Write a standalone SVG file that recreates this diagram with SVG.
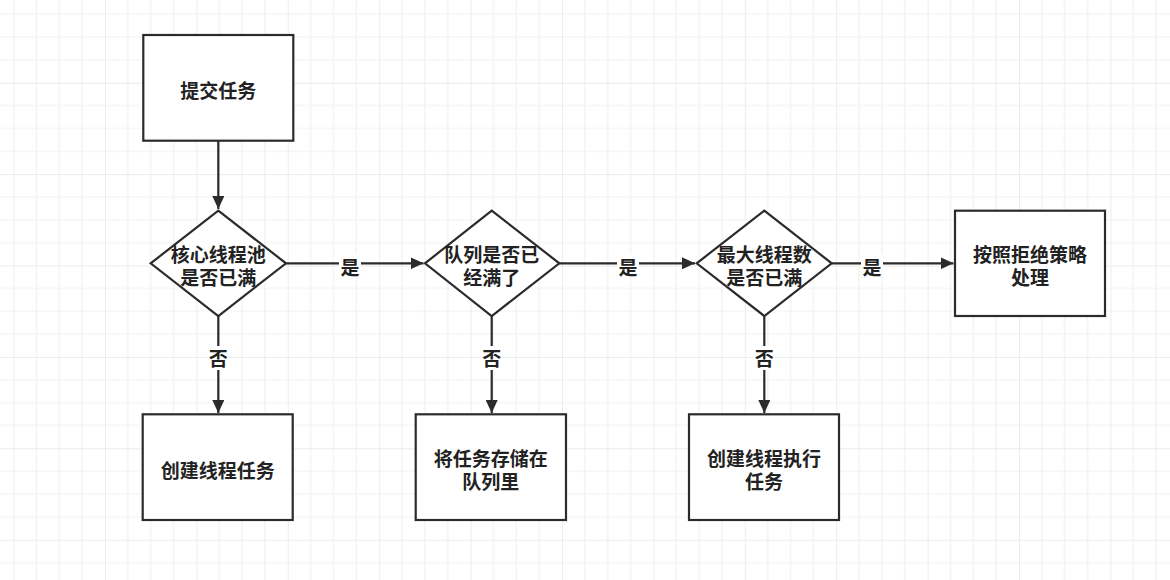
<svg xmlns="http://www.w3.org/2000/svg" width="1170" height="580" viewBox="0 0 1170 580">
<style>
.node{fill:#ffffff;stroke:#2b2b2b;stroke-width:2.2}
.edge{fill:none;stroke:#2b2b2b;stroke-width:2.2}
.t{font-family:"Noto Sans CJK SC","Noto Sans",sans-serif;font-size:19px;font-weight:bold;fill:#222222;text-anchor:middle;dominant-baseline:central}
.lbl{fill:#ffffff}
</style>
<defs>
<pattern id="grid" patternUnits="userSpaceOnUse" width="91.4" height="91.4" patternTransform="translate(13.6 -8.7)">
<path d="M22.85 0V91.4M45.7 0V91.4M68.55 0V91.4M0 22.85H91.4M0 45.7H91.4M0 68.55H91.4" stroke="#f1f1f1" stroke-width="1.2" fill="none"/>
<path d="M0 0V91.4M0 0H91.4" stroke="#e5e5e5" stroke-width="1.4" fill="none"/>
</pattern>
<marker id="arr" viewBox="0 0 13 12" refX="13" refY="6" markerWidth="13" markerHeight="12" markerUnits="userSpaceOnUse" orient="auto">
<path d="M0 0L13 6L0 12Z" fill="#2b2b2b"/>
</marker>
</defs>
<rect width="1170" height="580" fill="#ffffff"/>
<rect width="1170" height="580" fill="url(#grid)"/>

<g id="connectors">
<path class="edge" d="M218.3 141V209" marker-end="url(#arr)"/>
<path class="edge" d="M286 263.3H423.5" marker-end="url(#arr)"/>
<rect class="lbl" x="339" y="254" width="22" height="22"/>
<text class="t" x="350" y="266">是</text>
<path class="edge" d="M559.3 263.3H695" marker-end="url(#arr)"/>
<rect class="lbl" x="617" y="254" width="22" height="22"/>
<text class="t" x="628" y="266">是</text>
<path class="edge" d="M831.7 263.3H953.5" marker-end="url(#arr)"/>
<rect class="lbl" x="861" y="254" width="22" height="22"/>
<text class="t" x="872" y="266">是</text>
<path class="edge" d="M218.3 316V413" marker-end="url(#arr)"/>
<rect class="lbl" x="207" y="346" width="22" height="24"/>
<text class="t" x="218.3" y="357">否</text>
<path class="edge" d="M491.7 316V413" marker-end="url(#arr)"/>
<rect class="lbl" x="480" y="346" width="22" height="24"/>
<text class="t" x="491.7" y="357">否</text>
<path class="edge" d="M764.3 316V413" marker-end="url(#arr)"/>
<rect class="lbl" x="753" y="346" width="22" height="24"/>
<text class="t" x="764.3" y="357">否</text>
</g>

<g id="submit">
<rect class="node" x="143.3" y="35" width="150" height="105.7"/>
<text class="t" x="218.3" y="89">提交任务</text>
</g>
<g id="core-full">
<polygon class="node" points="218.3,210.7 286,263.3 218.3,316 150.7,263.3"/>
<text class="t" x="218.3" y="253">核心线程池<tspan x="218.3" dy="23">是否已满</tspan></text>
</g>
<g id="queue-full">
<polygon class="node" points="491.7,210.7 559.3,263.3 491.7,316 425,263.3"/>
<text class="t" x="491.7" y="253">队列是否已<tspan x="491.7" dy="23">经满了</tspan></text>
</g>
<g id="max-full">
<polygon class="node" points="764.3,210.7 831.7,263.3 764.3,316 696.7,263.3"/>
<text class="t" x="764.3" y="253">最大线程数<tspan x="764.3" dy="23">是否已满</tspan></text>
</g>
<g id="reject">
<rect class="node" x="955" y="210.7" width="150" height="105.3"/>
<text class="t" x="1030" y="253">按照拒绝策略<tspan x="1030" dy="23">处理</tspan></text>
</g>
<g id="create-core">
<rect class="node" x="142.7" y="414.3" width="150" height="105.7"/>
<text class="t" x="217.7" y="469">创建线程任务</text>
</g>
<g id="enqueue">
<rect class="node" x="415.7" y="414.3" width="150.3" height="105.7"/>
<text class="t" x="490.8" y="457">将任务存储在<tspan x="490.8" dy="23">队列里</tspan></text>
</g>
<g id="create-max">
<rect class="node" x="689" y="414.3" width="150" height="105.7"/>
<text class="t" x="764" y="457">创建线程执行<tspan x="764" dy="23">任务</tspan></text>
</g>
</svg>
